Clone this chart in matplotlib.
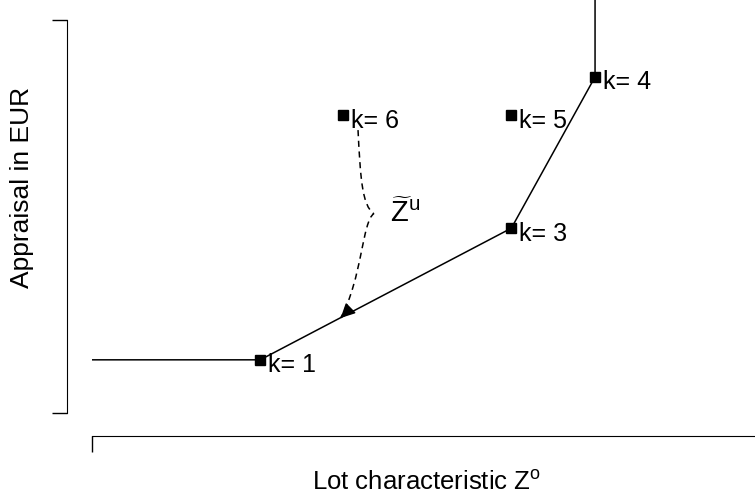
import matplotlib
matplotlib.use("Agg")
import matplotlib.pyplot as plt
from matplotlib.path import Path
from matplotlib.patches import PathPatch

plt.rcParams['font.family'] = ['Liberation Sans', 'DejaVu Sans']
plt.rcParams['mathtext.fontset'] = 'custom'
plt.rcParams['mathtext.rm'] = 'Liberation Sans'
plt.rcParams['mathtext.it'] = 'Liberation Sans'

# appraisal curve (lot characteristic -> appraisal)
curve_x = [0.0, 2.03, 5.06, 6.07, 6.07]
curve_y = [1.03, 1.03, 3.58, 6.51, 8.0]

# observed lots
lot_labels = ['k= 1', 'k= 3', 'k= 4', 'k= 5', 'k= 6']
lot_x = [2.03, 5.06, 6.07, 5.06, 3.03]
lot_y = [1.03, 3.58, 6.51, 5.77, 5.77]

# dashed brace from k=6 down to the curve
brace_x = [3.21, 3.24, 3.26, 3.40, 3.26, 3.26, 3.0]
brace_y = [5.48, 4.51, 4.03, 3.86, 3.71, 2.6, 1.84]

fig = plt.figure(figsize=(7.55, 5.0), dpi=100)
ax = fig.add_axes([92 / 755, 87 / 500, 663 / 755, 413 / 500])
ax.set_xlim(0, 8)
ax.set_ylim(0, 8)

ax.plot(curve_x, curve_y, color='black', lw=1.1, solid_joinstyle='miter')
ax.plot(lot_x, lot_y, ls='none', marker='s', ms=7.5, color='black')
for lab, x, y in zip(lot_labels, lot_x, lot_y):
    ax.annotate(lab, (x, y), xytext=(5.5, -9), textcoords='offset points',
                ha='left', va='baseline', fontsize=18)

codes = [Path.MOVETO] + [Path.CURVE4] * 6
brace = PathPatch(Path(list(zip(brace_x, brace_y)), codes), fill=False,
                  color='black', lw=1.1, linestyle=(0, (4, 3)))
ax.add_patch(brace)
ax.annotate('', xy=(brace_x[-1], brace_y[-1]),
            xytext=(brace_x[-1] + 0.07, brace_y[-1] + 0.11),
            arrowprops=dict(arrowstyle='-|>', mutation_scale=22,
                            color='black', lw=1, shrinkA=0, shrinkB=0))
ax.annotate(r'$\widetilde{\mathrm{Z}}^{\mathrm{u}}$', (brace_x[3], brace_y[3]),
            xytext=(12, -6), textcoords='offset points',
            ha='left', va='baseline', fontsize=21)

for side in ['top', 'right']:
    ax.spines[side].set_visible(False)
ax.spines['left'].set_position(('outward', 18))
ax.spines['left'].set_bounds(0, 7.61)
ax.spines['bottom'].set_position(('outward', 16.5))
ax.spines['bottom'].set_bounds(0, 8)
ax.set_yticks([0, 7.61])
ax.set_xticks([0])
ax.tick_params(axis='y', length=11, width=1, labelleft=False)
ax.tick_params(axis='x', length=11.5, width=1, labelbottom=False)

ax.set_xlabel(r'Lot characteristic Z$^{\mathrm{o}}$', fontsize=18.5)
ax.xaxis.set_label_coords(0.505, -0.14)
ax.set_ylabel('Appraisal in EUR', fontsize=19)
ax.yaxis.set_label_coords(-0.087, 0.545)

fig.savefig('out.png', dpi=100)
